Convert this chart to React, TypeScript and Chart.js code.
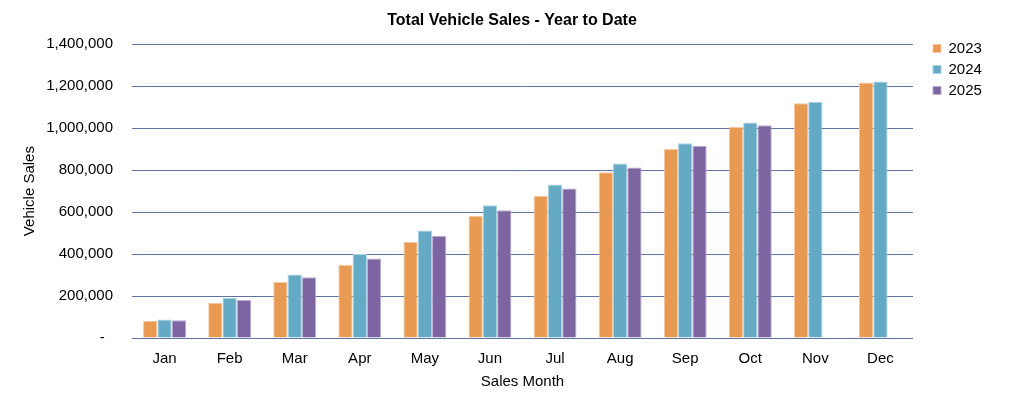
import React, { useEffect, useRef } from "react";
import { Chart, registerables } from "chart.js";

Chart.register(...registerables);

const months = ["Jan", "Feb", "Mar", "Apr", "May", "Jun", "Jul", "Aug", "Sep", "Oct", "Nov", "Dec"];
const sales2023 = [82000, 168000, 267000, 349000, 457000, 582000, 678000, 790000, 901000, 1006000, 1119000, 1217000];
const sales2024 = [88000, 192000, 303000, 400000, 512000, 633000, 731000, 831000, 928000, 1027000, 1125000, 1222000];
const sales2025 = [85000, 181000, 289000, 379000, 487000, 609000, 712000, 812000, 916000, 1014000, null, null];
const seriesLabels = ["2023", "2024", "2025"];
const yMax = 1400000;
const yStep = 200000;

const FONT = "'Liberation Sans', Arial, sans-serif";

const legendWidthPlugin = {
  id: "legendWidth",
  beforeLayout(chart: any) {
    const lg = chart.legend;
    if (lg && !lg.__patched) {
      const orig = lg.fit;
      lg.fit = function () {
        orig.call(this);
        this.width = 89;
      };
      lg.__patched = true;
    }
  },
};

export default function App() {
  const ref = useRef<HTMLCanvasElement | null>(null);
  useEffect(() => {
    if (!ref.current) return;
    const chart = new Chart(ref.current, {
      type: "bar",
      data: {
        labels: months,
        datasets: [
          { label: seriesLabels[0], data: sales2023, backgroundColor: "#E99A52", borderColor: "#F2C9A2", borderWidth: 1 },
          { label: seriesLabels[1], data: sales2024, backgroundColor: "#64AAC4", borderColor: "#A9D3E2", borderWidth: 1 },
          { label: seriesLabels[2], data: sales2025, backgroundColor: "#7C65A0", borderColor: "#BBAED0", borderWidth: 1 },
        ],
      },
      plugins: [legendWidthPlugin],
      options: {
        animation: false,
        responsive: true,
        maintainAspectRatio: false,
        datasets: { bar: { barPercentage: 1, categoryPercentage: 0.66 } },
        layout: { padding: 0 },
        plugins: {
          title: {
            display: true,
            text: "Total Vehicle Sales - Year to Date",
            color: "#000",
            font: { family: FONT, size: 16, weight: "bold" },
            padding: { top: 3, bottom: 14 },
          },
          legend: {
            position: "right",
            align: "start",
            title: { display: true, text: "", font: { size: 10 }, padding: { top: 15, bottom: 0 } },
            labels: {
              boxWidth: 8,
              boxHeight: 8,
              color: "#000",
              font: { family: FONT, size: 15 },
              padding: 6,
            },
          },
          tooltip: { enabled: false },
        },
        scales: {
          x: {
            grid: { display: false },
            border: { display: false },
            ticks: { color: "#000", font: { family: FONT, size: 15 }, padding: 4 },
            title: {
              display: true,
              text: "Sales Month",
              color: "#000",
              font: { family: FONT, size: 15, lineHeight: 1 },
              padding: { top: 2, bottom: 0 },
            },
          },
          y: {
            min: 0,
            max: yMax,
            afterFit: (s: any) => {
              s.width = 124;
            },
            ticks: {
              stepSize: yStep,
              color: "#000",
              font: { family: FONT, size: 15 },
              padding: 19,
              callback: (v: any) => (Number(v) === 0 ? "-  " : Number(v).toLocaleString("en-US")),
            },
            grid: { color: "#5F74A0", drawTicks: false },
            border: { display: false },
            title: {
              display: true,
              text: "Vehicle Sales",
              color: "#000",
              font: { family: FONT, size: 15 },
              padding: { top: 13, bottom: 6 },
            },
          },
          gap: {
            type: "linear",
            position: "right",
            display: true,
            grid: { display: false },
            border: { display: false },
            ticks: { display: false },
            afterFit: (s: any) => {
              s.width = 14;
            },
          },
        },
      },
    });
    return () => chart.destroy();
  }, []);
  return (
    <div style={{ position: "relative", width: 1008, height: 381 }}>
      <canvas ref={ref} />
    </div>
  );
}
